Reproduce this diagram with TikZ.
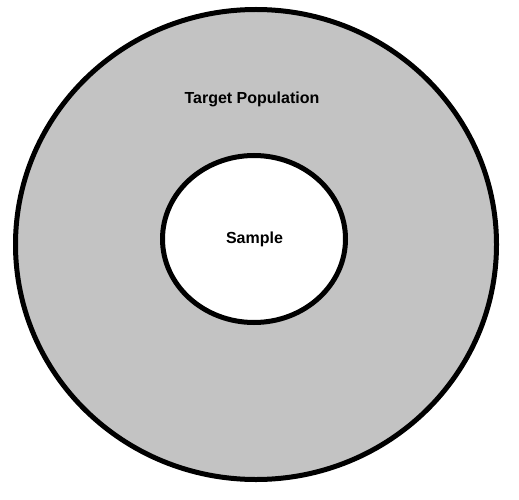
\documentclass[tikz,border=0pt]{standalone}
\usepackage{fontspec}
\setmainfont{Liberation Sans}
\definecolor{popgray}{RGB}{195,195,195}
\tikzset{
  ring/.style={draw=black, line width=5pt},
  label/.style={font=\bfseries\fontsize{16}{19}\selectfont, inner sep=0pt}
}
\begin{document}
\begin{tikzpicture}[x=1pt,y=-1pt]
  \fill[white] (0,0) rectangle (519,500);
  \useasboundingbox (0,0) rectangle (519,500);

  \draw[ring, fill=popgray] (256,244.5) ellipse [x radius=240.5pt, y radius=235pt];
  \draw[ring, fill=white] (254,239) ellipse [x radius=91.5pt, y radius=83.5pt];

  \node[label] (target) at (252,99) {Target Population};
  \node[label] (sample) at (254.5,239) {Sample};
\end{tikzpicture}
\end{document}
